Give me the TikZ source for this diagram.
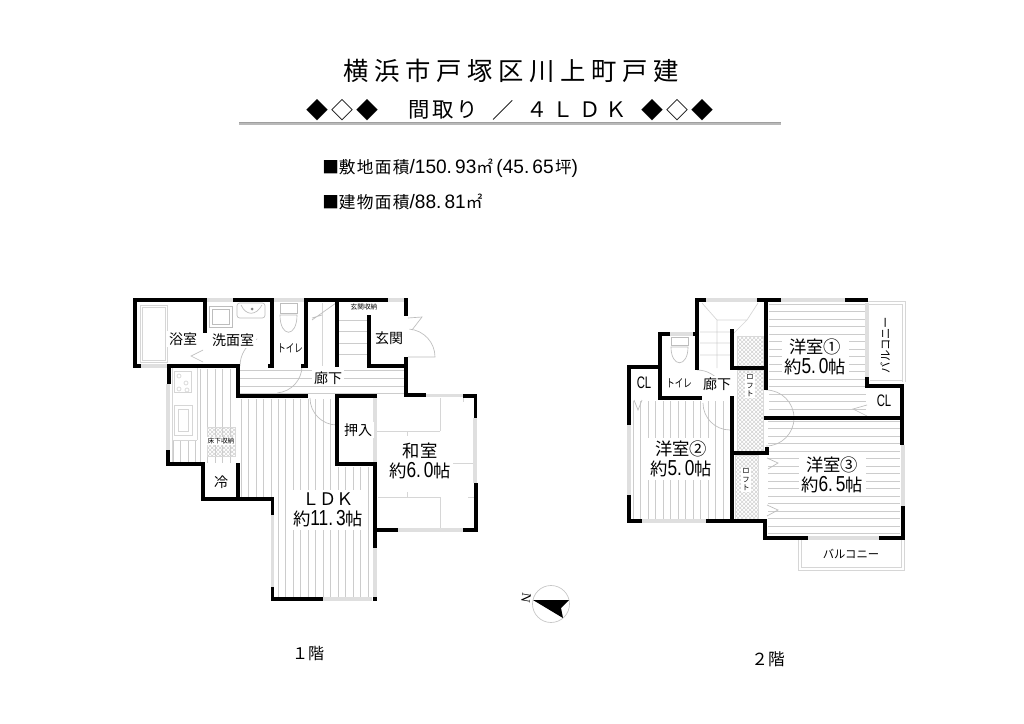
\documentclass[tikz,border=0pt]{standalone}
\usepackage{fontspec}
\setmainfont{Noto Sans CJK JP}
\newfontfamily\titlefont[LetterSpace=22.6]{Noto Sans CJK JP}
\newfontfamily\infofont[LetterSpace=8]{Noto Sans CJK JP}
\newfontfamily\narrowfont{Liberation Sans}
\newfontfamily\northfont{Liberation Serif}
\usetikzlibrary{patterns}
\newcommand{\nar}[1]{\scalebox{1}[1.25]{\narrowfont #1}}
\newcommand{\nbig}[1]{{\fontsize{13.5pt}{14pt}\selectfont\scalebox{1.06}[1.08]{\narrowfont #1}}}
\newcommand{\clab}{\scalebox{0.85}[1.25]{\fontsize{10pt}{12pt}\selectfont\narrowfont CL}}
\tikzset{
  wallline/.style={line width=2.7pt,line cap=butt,line join=miter,black},
  thinline/.style={line width=0.5pt,gray!52},
  faintline/.style={line width=0.5pt,gray!32},
  hatchline/.style={line width=0.55pt,gray!40},
  winline/.style={line width=2.6pt,gray!25},
  lbl/.style={fill=white,inner sep=1.2pt,font=\fontsize{10.5pt}{12pt}\selectfont},
  big/.style={fill=white,inner sep=2pt,align=center,font=\fontsize{13pt}{15.5pt}\selectfont},
  tiny lbl/.style={fill=white,inner sep=0.6pt,font=\fontsize{5pt}{6pt}\selectfont},
  loft lbl/.style={fill=white,inner sep=0.8pt,align=center,font=\fontsize{5.5pt}{6.4pt}\selectfont},
  small lbl/.style={fill=white,inner sep=0.8pt,font=\fontsize{8.5pt}{9pt}\selectfont},
  loft/.style={pattern=crosshatch,pattern color=gray!35,draw=gray!30,line width=0.3pt},
}
\begin{document}
\begin{tikzpicture}[x=0.75pt,y=-0.75pt]
\useasboundingbox (0,0) rectangle (1024,724);
\fill[white] (0,0) rectangle (1024,724);

% ---- headings
\node (title) at (511,71) {\fontsize{19pt}{21pt}\titlefont 横浜市戸塚区川上町戸建};
\foreach \x/\t in {317/◆,342/◇,367/◆,652/◆,677/◇,702/◆}{
  \node[inner sep=0pt,font=\fontsize{16.5pt}{17pt}\selectfont] at (\x,110) {\t};
}
\foreach \x/\t in {419/間,443/取,467/り,503/／,537/４,563/Ｌ,590/Ｄ,616/Ｋ}{
  \node[inner sep=0pt,font=\fontsize{16pt}{17pt}\selectfont] at (\x,110) {\t};
}
\fill[gray!75] (239,122.3) rectangle (781,123.4);
\fill[gray!55] (239,123.4) rectangle (781,124.6);
\node[anchor=west,inner sep=0pt,font=\fontsize{12.5pt}{14pt}\selectfont] (info1) at (322,168)
  {■\infofont 敷地面積\nbig{/150.\,93}㎡\hspace{2.5pt}\nbig{(45.\,65}\hspace{1pt}坪\nbig{)}};
\node[anchor=west,inner sep=0pt,font=\fontsize{12.5pt}{14pt}\selectfont] (info2) at (322,202)
  {■\infofont 建物面積\nbig{/88.\,81}㎡};

% ---- floor 1 hatching
\foreach \x in {200,207.5,...,236}{\draw[hatchline] (\x,369) -- (\x,463);}
\foreach \x in {173,180.5,188,195.5}{\draw[hatchline] (\x,440) -- (\x,462);}
\foreach \x in {241,248.5,...,272}{\draw[hatchline] (\x,399) -- (\x,497);}
\foreach \x in {278,285.5,...,336}{\draw[hatchline] (\x,399) -- (\x,597);}
\foreach \x in {338,345.5,...,374}{\draw[hatchline] (\x,467) -- (\x,597);}
\foreach \y in {370,378,386,393}{\draw[hatchline] (240,\y) -- (405,\y);}
\foreach \y in {320,331,343,354}{\draw[hatchline] (339,\y) -- (368,\y);}
\draw[faintline] (322,303) -- (322,366);
\draw[thinline] (336,303) -- (312,320) (322,315) -- (312,318);
% tatami
\draw[faintline] (376,431) -- (440,431) (440,398) -- (440,431)
  (378,497) -- (440,497) (440,497) -- (440,530) (440,463) -- (474,463)
  (407,431) -- (407,436) (407,492) -- (407,497) (463,398) -- (463,402) (468,497) -- (474,497);
% floor 1 fixtures
\draw[faintline] (140,305) rectangle (167,362) (142,307) rectangle (165,360);
\draw[thinline] (209,306) rectangle (232,327) (212,309) rectangle (229,324);
\draw[thinline,rounded corners=2pt] (237,303) rectangle (265,318);
\draw[thinline] (241,305) .. controls (246,316) and (256,316) .. (262,305);
\fill[gray] (252,309) circle (1.5);
\draw[thinline] (280,303) rectangle (297,313);
\draw[thinline] (280,315) .. controls (280,338) and (297,338) .. (297,315) -- cycle;
\draw[faintline] (174,371) rectangle (191,392);
\foreach \p in {(179,376),(186,383),(179,389),(187,390)}{\draw[faintline] \p circle (2);}
\draw[faintline] (174,405) rectangle (192,435) (178,409) rectangle (188,431);
\draw[faintline] (172,368) -- (172,462) (197,368) -- (197,440) (172,440) -- (197,440);
\draw[loft] (207,427) rectangle (235,456);
\draw[thinline] (203,350) -- (191,356) -- (203,362);
% floor 1 doors
\draw[thinline] (240,366) arc[start angle=180,end angle=245,radius=30];
\draw[thinline] (302,366) arc[start angle=0,end angle=85,radius=27];
\draw[thinline] (310,398) arc[start angle=180,end angle=90,radius=27];
\draw[thinline] (408,357) -- (435,357) arc[start angle=0,end angle=-85,radius=28];
\draw[thinline] (408,318) -- (422,317) -- (412,330);
% floor 1 windows
\draw[winline] (205,300) -- (233,300) (273,300) -- (305,300) (388,300) -- (406,300)
  (168,384) -- (168,450) (426,395.5) -- (463,395.5) (475,418) -- (475,483)
  (398,530) -- (463,530) (375,548) -- (375,598) (272.5,515) -- (272.5,587)
  (323,599) -- (372,599) (375,396) -- (375,463) (135,366) -- (169,366);
% floor 1 walls
\draw[wallline] (141,366) -- (135,366) -- (135,300) -- (205,300) -- (205,333);
\draw[wallline] (233,300) -- (272,300) -- (272,366) (268,366) -- (274,366);
\draw[wallline] (301,366) -- (306,366) -- (306,300) -- (388,300);
\draw[wallline] (337,300) -- (337,367);
\draw[wallline] (369,315) -- (369,366) -- (407,366);
\draw[wallline] (406,298) -- (406,316) (406,357) -- (406,395) -- (426,395);
\draw[wallline] (463,396) -- (475.5,396) -- (475.5,418);
\draw[wallline] (169,384) -- (169,366) -- (238,366) -- (238,396) -- (308,396);
\draw[wallline] (377,396) -- (337,396) -- (337,464) -- (375,464) -- (375,548);
\draw[wallline] (375,530) -- (398,530) (463,530) -- (476,530) -- (476,483);
\draw[wallline] (272.5,515) -- (272.5,499) -- (203,499) -- (203,464) -- (168,464) -- (168,450);
\draw[wallline] (238,499) -- (238,463);
\draw[wallline] (272.5,587) -- (272.5,599) -- (323,599);
\fill[black] (373,597) rectangle (377,601);

% ---- floor 1 labels
\node[lbl] (r1) at (183,339) {浴室};
\node[lbl] (r2) at (233,340) {洗面室};
\node[small lbl] (r3) at (290,348) {\scalebox{0.75}[1]{トイレ}};
\node[lbl] (r4) at (328,378) {廊下};
\node[lbl] (r5) at (389,338) {玄関};
\node[tiny lbl] (r6) at (364,307) {玄関収納};
\node[tiny lbl] (r7) at (221,441) {床下収納};
\node[lbl] (r8) at (221,482) {冷};
\node[lbl] (r9) at (358,430) {押入};
\node[big] (r10) at (420,461) {和室\\約\nar{6.\,0}帖};
\node[big] (r11) at (328,510) {ＬＤＫ\\約\nar{11.\,3}帖};
\node[font=\fontsize{12pt}{13pt}\selectfont] (f1) at (308,654) {１階};

% ---- floor 2 hatching
\foreach \y in {304,311.5,...,417}{\draw[hatchline] (769,\y) -- (866,\y);}
\foreach \x in {633,640.5,...,731}{\draw[hatchline] (\x,401) -- (\x,519);}
\foreach \y in {421,428.5,...,537}{\draw[hatchline] (768,\y) -- (900,\y);}
% stairs
\draw[faintline] (702,303) -- (717,320) -- (747,320) -- (758,303) (747,320) -- (732,335)
  (717,320) -- (717,368) (700,332) -- (730,332) (700,343) -- (730,343) (700,355) -- (730,355);
% lofts
\draw[loft] (737,336) rectangle (763,366);
\draw[loft] (737,370) rectangle (763,451);
\draw[loft] (735,455) rectangle (758,519);
% fold doors
\draw[thinline] (767,458) -- (778,463) -- (768,469) (767,505) -- (778,510) -- (767,516);
\draw[thinline] (634,400) -- (638,410) -- (642,400);
\draw[thinline] (867,405) -- (853,409) -- (867,416);
% toilet
\draw[thinline] (671,337) rectangle (688,345);
\draw[thinline] (671,347) .. controls (671,368) and (688,368) .. (688,347) -- cycle;
% floor 2 doors
\draw[thinline] (703,403) arc[start angle=180,end angle=90,radius=27];
\draw[thinline] (697,370) arc[start angle=270,end angle=330,radius=28];
\draw[thinline] (766,390) arc[start angle=-90,end angle=90,radius=28];
% balcony and outside
\draw[faintline] (798,540) -- (798,570) -- (904,570) -- (904,540) (801,540) -- (801,567) -- (901,567) -- (901,540);
\draw[faintline] (868,301) -- (905,301) -- (905,382) (868,304) -- (902,304) -- (902,382) (870,380) -- (902,380);
% floor 2 windows
\draw[winline] (706,300) -- (757,300) (670,334) -- (693,334) (781,300) -- (845,300)
  (867,303) -- (867,377) (642,521) -- (706,521) (629,425) -- (629,495)
  (903,445) -- (903,506) (808,538) -- (879,538);
% floor 2 walls
\draw[wallline] (706,300) -- (697,300) -- (697,370);
\draw[wallline] (757,300) -- (766,300) -- (766,390);
\draw[wallline] (670,334) -- (660,334) -- (660,398) -- (702,398);
\draw[wallline] (693,334) -- (697,334);
\draw[wallline] (660,367) -- (629,367) -- (629,425);
\draw[wallline] (732,329) -- (732,368) -- (766,368);
\draw[wallline] (730,398) -- (732,398) -- (732,521);
\draw[wallline] (732,453) -- (767,453) -- (767,447);
\draw[wallline] (629,495) -- (629,521) -- (642,521);
\draw[wallline] (706,521) -- (765,521) -- (765,538) -- (808,538);
\draw[wallline] (879,538) -- (903,538) -- (903,506);
\draw[wallline] (781,300) -- (766,300) (845,300) -- (868,300);
\draw[wallline] (867,377) -- (867,386) -- (902,386) -- (902,445);
\draw[wallline] (764,418) -- (902,418);

% ---- floor 2 labels
\node[small lbl] (s1) at (644,383) {\clab};
\node[small lbl] (s2) at (679,383) {\scalebox{0.75}[1]{トイレ}};
\node[lbl] (s3) at (717,384) {廊下};
\node[loft lbl] (s4) at (750,386) {ロ\\フ\\ト};
\node[big] (s5) at (815,357) {洋室①\\約\nar{5.\,0}帖};
\node[small lbl,rotate=90] (s6) at (885,345) {バルコニー};
\node[small lbl] (s7) at (884,401) {\clab};
\node[big] (s8) at (681,459) {洋室②\\約\nar{5.\,0}帖};
\node[big] (s9) at (832,475) {洋室③\\約\nar{6.\,5}帖};
\node[loft lbl] (s10) at (746,480) {ロ\\フ\\ト};
\node[small lbl] (s11) at (851,554) {バルコニー};
\node[font=\fontsize{12.5pt}{13pt}\selectfont] (f2) at (768,659) {２階};

% ---- north arrow
\draw[line width=0.5pt,gray!45] (551,604) circle (18.5);
\fill[black] (533,600) -- (569,600) -- (561,608) -- (563,618) -- cycle;
\node[rotate=-100,inner sep=0pt,font=\fontsize{10pt}{11pt}\selectfont] (north) at (526,598) {\northfont N};
\end{tikzpicture}
\end{document}
